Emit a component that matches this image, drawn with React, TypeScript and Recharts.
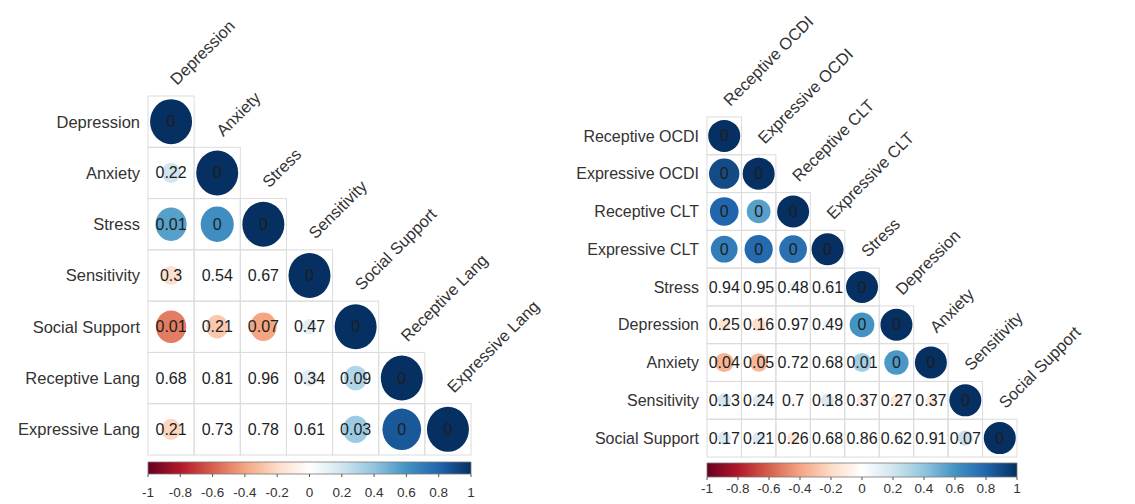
import React from 'react';
import {
  ScatterChart,
  Scatter,
  XAxis,
  YAxis,
  ReferenceArea,
} from 'recharts';

const FONT = '"Liberation Sans", Arial, sans-serif';

// left panel
const leftVars = [
  'Depression',
  'Anxiety',
  'Stress',
  'Sensitivity',
  'Social Support',
  'Receptive Lang',
  'Expressive Lang',
];
const leftCorr = [
  [1],
  [0.2, 1],
  [0.55, 0.62, 1],
  [-0.18, 0.04, 0.03, 1],
  [-0.52, -0.27, -0.4, 0.12, 1],
  [0.05, 0.03, 0.01, 0.14, 0.3, 1],
  [-0.22, 0.04, -0.03, 0.06, 0.37, 0.85, 1],
];
const leftP = [
  ['0'],
  ['0.22', '0'],
  ['0.01', '0', '0'],
  ['0.3', '0.54', '0.67', '0'],
  ['0.01', '0.21', '0.07', '0.47', '0'],
  ['0.68', '0.81', '0.96', '0.34', '0.09', '0'],
  ['0.21', '0.73', '0.78', '0.61', '0.03', '0', '0'],
];

// right panel
const rightVars = [
  'Receptive OCDI',
  'Expressive OCDI',
  'Receptive CLT',
  'Expressive CLT',
  'Stress',
  'Depression',
  'Anxiety',
  'Sensitivity',
  'Social Support',
];
const rightCorr = [
  [1],
  [0.9, 1],
  [0.8, 0.55, 1],
  [0.7, 0.78, 0.75, 1],
  [0.01, -0.01, 0.09, 0.06, 1],
  [-0.15, -0.18, 0.01, 0.08, 0.6, 1],
  [-0.35, -0.33, 0.05, 0.05, 0.35, 0.58, 1],
  [0.19, 0.15, 0.05, 0.17, -0.12, -0.14, -0.12, 1],
  [0.17, 0.16, -0.14, 0.05, 0.02, 0.06, 0.01, 0.23, 1],
];
const rightP = [
  ['0'],
  ['0', '0'],
  ['0', '0', '0'],
  ['0', '0', '0', '0'],
  ['0.94', '0.95', '0.48', '0.61', '0'],
  ['0.25', '0.16', '0.97', '0.49', '0', '0'],
  ['0.04', '0.05', '0.72', '0.68', '0.01', '0', '0'],
  ['0.13', '0.24', '0.7', '0.18', '0.37', '0.27', '0.37', '0'],
  ['0.17', '0.21', '0.26', '0.68', '0.86', '0.62', '0.91', '0.07', '0'],
];

const colorbarTicks = [-1, -0.8, -0.6, -0.4, -0.2, 0, 0.2, 0.4, 0.6, 0.8, 1];

// corrplot COL2('RdBu')
const rdbu = [
  '#67001F', '#B2182B', '#D6604D', '#F4A582', '#FDDBC7', '#FFFFFF',
  '#D1E5F0', '#92C5DE', '#4393C3', '#2166AC', '#053061',
];

function hexToRgb(h: string) {
  const n = parseInt(h.slice(1), 16);
  return [(n >> 16) & 255, (n >> 8) & 255, n & 255];
}

function corrColor(r: number) {
  const t = ((Math.max(-1, Math.min(1, r)) + 1) / 2) * (rdbu.length - 1);
  const i = Math.min(rdbu.length - 2, Math.floor(t));
  const f = t - i;
  const a = hexToRgb(rdbu[i]);
  const b = hexToRgb(rdbu[i + 1]);
  const c = a.map((v, k) => Math.round(v + (b[k] - v) * f));
  return `rgb(${c[0]},${c[1]},${c[2]})`;
}

interface PanelProps {
  id: string;
  vars: string[];
  corr: number[][];
  pvals: string[][];
  left: number;
  width: number;
  plotLeft: number;
  plotRight: number;
  plotTop: number;
  gridBottom: number;
  cbTop: number;
  cbBottom: number;
  rx: number;
  ry: number;
  rowFont: number;
  tickGap: number;
}

function CorrPanel(p: PanelProps) {
  const height = 504;
  const n = p.vars.length;
  const cellW = (p.plotRight - p.plotLeft) / n;
  const cellH = (p.gridBottom - p.plotTop) / n;
  const yMax = n - 0.5 + (p.cbBottom - p.gridBottom) / cellH;
  const cbY1 = n - 0.5 + (p.cbTop - p.gridBottom) / cellH;

  const data = [];
  for (let i = 0; i < n; i++) {
    for (let j = 0; j <= i; j++) {
      data.push({ col: j, row: i, r: p.corr[i][j], p: p.pvals[i][j] });
    }
  }
  // anchors the colour-bar axis so it gets drawn
  const cbData = colorbarTicks.map((v) => ({ v, row: yMax }));

  const cellShape = (props: any) => {
    const { cx, cy, payload } = props;
    const s = Math.sqrt(Math.abs(payload.r));
    const lx = cx + 6;
    const ly = cy - cellH / 2 - 10;
    return (
      <g>
        <rect
          x={cx - cellW / 2}
          y={cy - cellH / 2}
          width={cellW}
          height={cellH}
          fill="none"
          stroke="#dcdcdc"
          strokeWidth={1}
        />
        {s > 0 && (
          <ellipse cx={cx} cy={cy} rx={p.rx * s} ry={p.ry * s} fill={corrColor(payload.r)} />
        )}
        <text
          x={cx}
          y={cy}
          textAnchor="middle"
          dominantBaseline="central"
          fontSize={16}
          fontFamily={FONT}
          fill="#1e1e1e"
        >
          {payload.p}
        </text>
        {payload.row === payload.col && (
          <text
            x={lx}
            y={ly}
            transform={`rotate(-45 ${lx} ${ly})`}
            fontSize={16.5}
            fontFamily={FONT}
            fill="#333"
          >
            {p.vars[payload.col]}
          </text>
        )}
      </g>
    );
  };

  return (
    <div style={{ position: 'absolute', left: p.left, top: 0 }}>
      <ScatterChart
        width={p.width}
        height={height}
        margin={{ top: p.plotTop, right: p.width - p.plotRight, bottom: 0, left: 0 }}
      >
        <defs>
          <linearGradient id={p.id} x1="0" y1="0" x2="1" y2="0">
            {rdbu.map((c, k) => (
              <stop key={k} offset={`${k * 10}%`} stopColor={c} />
            ))}
          </linearGradient>
        </defs>
        <XAxis xAxisId="cell" type="number" dataKey="col" domain={[-0.5, n - 0.5]} hide />
        <XAxis
          xAxisId="cb"
          type="number"
          dataKey="v"
          domain={[-1, 1]}
          ticks={colorbarTicks}
          interval={0}
          height={height - p.cbBottom}
          axisLine={false}
          tickSize={3}
          tickMargin={p.tickGap}
          tickLine={{ stroke: '#555' }}
          tick={{ fontSize: 13.5, fill: '#333', fontFamily: FONT }}
        />
        <YAxis
          type="number"
          dataKey="row"
          domain={[-0.5, yMax]}
          reversed
          ticks={p.vars.map((_, k) => k)}
          interval={0}
          tickFormatter={(v: number) => p.vars[v] ?? ''}
          width={p.plotLeft}
          axisLine={false}
          tickLine={false}
          tickSize={0}
          tickMargin={8}
          tick={{ fontSize: p.rowFont, fill: '#333', fontFamily: FONT }}
        />
        <ReferenceArea
          xAxisId="cb"
          x1={-1}
          x2={1}
          y1={cbY1}
          y2={yMax}
          fill={`url(#${p.id})`}
          fillOpacity={1}
          stroke="#777"
          strokeWidth={0.8}
          ifOverflow="visible"
        />
        <Scatter
          xAxisId="cb"
          data={cbData}
          shape={() => <g />}
          isAnimationActive={false}
        />
        <Scatter
          xAxisId="cell"
          data={data}
          shape={cellShape}
          isAnimationActive={false}
        />
      </ScatterChart>
    </div>
  );
}

export default function App() {
  return (
    <div
      style={{
        position: 'absolute',
        left: 0,
        top: 0,
        width: 1135,
        height: 504,
        background: '#fff',
        overflow: 'hidden',
      }}
    >
      <CorrPanel
        id="gradLeft"
        vars={leftVars}
        corr={leftCorr}
        pvals={leftP}
        left={0}
        width={560}
        plotLeft={148}
        plotRight={471}
        plotTop={96}
        gridBottom={455}
        cbTop={462}
        cbBottom={474}
        rx={21}
        ry={22.5}
        rowFont={16.5}
        tickGap={10}
      />
      <CorrPanel
        id="gradRight"
        vars={rightVars}
        corr={rightCorr}
        pvals={rightP}
        left={560}
        width={575}
        plotLeft={147}
        plotRight={457}
        plotTop={117}
        gridBottom={457}
        cbTop={463}
        cbBottom={477}
        rx={16}
        ry={16}
        rowFont={16}
        tickGap={3}
      />
    </div>
  );
}
